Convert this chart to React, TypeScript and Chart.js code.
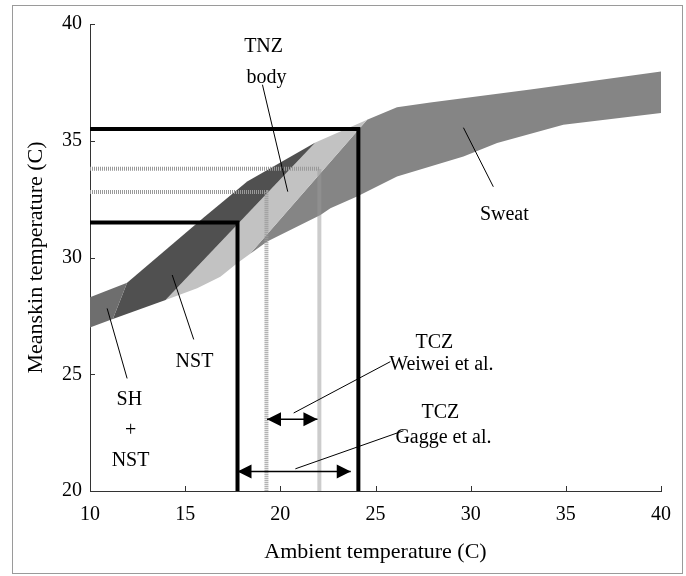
import React, { useEffect, useRef } from 'react';
import { Chart, registerables } from 'chart.js';

Chart.register(...registerables);

type P = [number, number];

const FONT = '"Liberation Serif", "Times New Roman", serif';

const xTicks = [10, 15, 20, 25, 30, 35, 40];
const yTicks = [20, 25, 30, 35, 40];

// Thermoregulation bands (ambient temperature, mean skin temperature)
const shNstBand: P[] = [[10, 27.0], [10, 28.3], [11.95, 28.92], [11.2, 27.37]];
const nstBand: P[] = [[11.2, 27.37], [11.95, 28.92], [15.96, 31.7], [18.26, 33.25], [21.84, 34.93], [13.97, 28.18]];
const tnzBand: P[] = [[13.97, 28.18], [21.84, 34.93], [24.56, 35.9], [18.4, 30.15], [17.73, 29.75], [16.85, 29.18], [15.63, 28.68]];
const sweatBand: P[] = [
  [24.56, 35.9], [26.13, 36.43], [27.88, 36.64], [33.14, 37.19], [40, 37.97],
  [40, 36.19], [34.87, 35.69], [31.39, 34.9], [29.62, 34.33], [26.13, 33.47],
  [24.03, 32.61], [22.63, 32.11], [22.11, 31.82], [19.31, 30.68], [18.4, 30.15],
];

// Comfort zones
const gaggeBox: P[] = [[10, 35.5], [24.1, 35.5], [24.1, 20]];
const innerBox: P[] = [[10, 31.5], [17.75, 31.5], [17.75, 20]];
const weiweiUpper: P[] = [[10, 33.8], [22.05, 33.8], [22.05, 20]];
const weiweiLower: P[] = [[10, 32.8], [19.27, 32.8], [19.27, 20]];

// Double arrows
const arrowWeiwei: P[] = [[19.3, 23.07], [21.95, 23.07]];
const arrowGagge: P[] = [[17.75, 20.84], [23.7, 20.84]];

// Leader lines
const leaderTnz: P[] = [[19.06, 37.4], [20.39, 32.82]];
const leaderSweat: P[] = [[29.62, 35.56], [31.19, 33.03]];
const leaderNst: P[] = [[14.32, 29.25], [15.45, 26.49]];
const leaderShNst: P[] = [[10.9, 27.82], [11.95, 24.82]];
const leaderWeiwei: P[] = [[20.7, 23.34], [25.78, 25.54]];
const leaderGagge: P[] = [[20.79, 20.95], [26.47, 22.58]];

// Text labels
const labelTexts = ['TNZ', 'body', 'Sweat', 'NST', 'SH', '+', 'NST', 'TCZ', 'Weiwei et al.', 'TCZ', 'Gagge et al.'];
const labelX = [19.12, 19.27, 31.77, 15.49, 12.07, 12.13, 12.13, 28.09, 28.46, 28.41, 28.57];
const labelY = [39.03, 37.7, 31.82, 25.52, 23.89, 22.6, 21.31, 26.37, 25.39, 23.33, 22.3];

const toXY = (pts: P[]) => pts.map(([x, y]) => ({ x, y }));

const band = (data: P[], color: string, order: number) => ({
  data: toXY(data),
  fill: 'shape',
  backgroundColor: color,
  borderColor: 'rgba(0,0,0,0)',
  borderWidth: 1,
  pointRadius: 0,
  tension: 0,
  order,
});

const line = (data: P[], color: string, width: number, order: number, dash: number[] = []) => ({
  data: toXY(data),
  fill: false,
  borderColor: color,
  borderWidth: width,
  borderDash: dash,
  pointRadius: 0,
  tension: 0,
  order,
});

const overlayPlugin = {
  id: 'overlay',
  beforeDraw(chart: any) {
    const { ctx } = chart;
    ctx.save();
    ctx.fillStyle = '#fff';
    ctx.fillRect(0, 0, chart.width, chart.height);
    ctx.strokeStyle = '#9a9a9a';
    ctx.lineWidth = 1;
    ctx.strokeRect(12.5, 5.5, 670, 568);
    ctx.restore();
  },
  afterDatasetsDraw(chart: any) {
    const { ctx, chartArea } = chart;
    const xs = chart.scales.x;
    const ys = chart.scales.y;
    ctx.save();
    // inward tick marks
    ctx.strokeStyle = '#333';
    ctx.lineWidth = 1;
    xTicks.forEach((v) => {
      const X = Math.round(xs.getPixelForValue(v)) + 0.5;
      ctx.beginPath();
      ctx.moveTo(X, chartArea.bottom);
      ctx.lineTo(X, chartArea.bottom - 5);
      ctx.stroke();
    });
    yTicks.forEach((v) => {
      const Y = Math.round(ys.getPixelForValue(v)) + 0.5;
      ctx.beginPath();
      ctx.moveTo(chartArea.left, Y);
      ctx.lineTo(chartArea.left + 5, Y);
      ctx.stroke();
    });
    // arrow heads
    ctx.fillStyle = '#000';
    const head = (x: number, y: number, dir: number) => {
      ctx.beginPath();
      ctx.moveTo(x, y);
      ctx.lineTo(x - dir * 14, y - 7);
      ctx.lineTo(x - dir * 14, y + 7);
      ctx.closePath();
      ctx.fill();
    };
    [arrowWeiwei, arrowGagge].forEach((a) => {
      head(xs.getPixelForValue(a[0][0]), ys.getPixelForValue(a[0][1]), -1);
      head(xs.getPixelForValue(a[1][0]), ys.getPixelForValue(a[1][1]), 1);
    });
    // labels
    ctx.font = `20px ${FONT}`;
    ctx.textAlign = 'center';
    ctx.textBaseline = 'middle';
    labelTexts.forEach((t, i) => {
      ctx.fillText(t, xs.getPixelForValue(labelX[i]), ys.getPixelForValue(labelY[i]));
    });
    ctx.restore();
  },
};

export default function App() {
  const ref = useRef<HTMLCanvasElement>(null);
  useEffect(() => {
    if (!ref.current) return;
    const chart = new Chart(ref.current, {
      type: 'line',
      data: {
        datasets: [
          band(sweatBand, '#858585', 20),
          band(tnzBand, '#c2c2c2', 19),
          band(nstBand, '#505050', 18),
          band(shNstBand, '#6e6e6e', 17),
          line(weiweiUpper, '#999999', 4, 10, [1, 1]),
          line(weiweiLower, '#999999', 4, 10, [1, 1]),
          line(gaggeBox, '#000', 4, 5),
          line(innerBox, '#000', 4, 5),
          line(arrowWeiwei, '#000', 1.5, 2),
          line(arrowGagge, '#000', 1.5, 2),
          line(leaderTnz, '#000', 1, 2),
          line(leaderSweat, '#000', 1, 2),
          line(leaderNst, '#000', 1, 2),
          line(leaderShNst, '#000', 1, 2),
          line(leaderWeiwei, '#000', 1, 2),
          line(leaderGagge, '#000', 1, 2),
        ] as any,
      },
      options: {
        animation: false,
        responsive: false,
        layout: { padding: { top: 24, right: 25, left: 0, bottom: 0 } },
        plugins: { legend: { display: false }, tooltip: { enabled: false } },
        scales: {
          x: {
            type: 'linear',
            min: 10,
            max: 40,
            ticks: { stepSize: 5, color: '#000', font: { family: FONT, size: 20 }, padding: 12, maxRotation: 0 },
            grid: { display: false, drawTicks: false },
            border: { display: true, color: '#333', width: 1 },
            title: { display: true, text: 'Ambient temperature (C)', color: '#000', font: { family: FONT, size: 22 }, padding: { top: 0, bottom: 11 } },
            afterFit: (s: any) => { s.height = 85; },
          },
          y: {
            type: 'linear',
            min: 20,
            max: 40,
            ticks: { stepSize: 5, color: '#000', font: { family: FONT, size: 20 }, padding: 8 },
            grid: { display: false, drawTicks: false },
            border: { display: true, color: '#333', width: 1 },
            title: { display: true, text: 'Meanskin temperature (C)', color: '#000', font: { family: FONT, size: 22 }, padding: { top: 23, bottom: 0 } },
            afterFit: (s: any) => { s.width = 90; },
          },
        },
      } as any,
      plugins: [overlayPlugin],
    });
    return () => chart.destroy();
  }, []);
  return (
    <div style={{ position: 'absolute', left: 0, top: 0, width: 686, height: 576 }}>
      <canvas ref={ref} width={686} height={576} />
    </div>
  );
}
